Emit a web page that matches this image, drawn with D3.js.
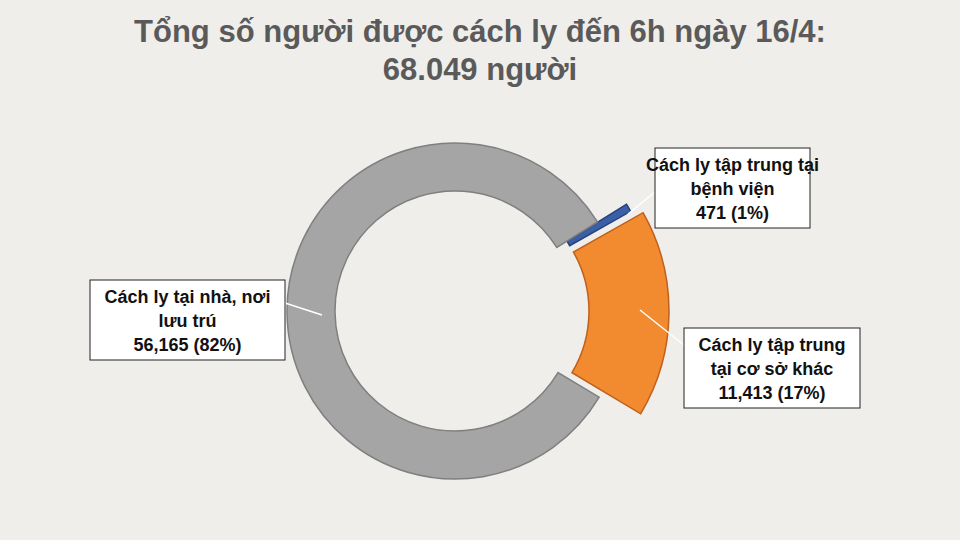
<!DOCTYPE html>
<html><head><meta charset="utf-8">
<script src="https://cdn.jsdelivr.net/npm/d3@7"></script>
<style>body{margin:0;background:#efeeea}</style></head>
<body><svg id="c" width="960" height="540"></svg>
<script>
const categories = ["Cách ly tập trung tại bệnh viện","Cách ly tập trung tại cơ sở khác","Cách ly tại nhà, nơi lưu trú"];
const values = [471, 11413, 56165];
const percents = ["1%","17%","82%"];
const valueLabels = ["471","11,413","56,165"];
const colors = ["#3a5fa8","#f28a30","#a5a5a5"];
const strokes = ["#24427a","#c0601a","#7f7f7f"];
const titleLines = ["Tổng số người được cách ly đến 6h ngày 16/4:","68.049 người"];

const svg = d3.select("#c");
svg.append("rect").attr("width",960).attr("height",540).attr("fill","#efeeea");
svg.selectAll("text.t").data(titleLines).join("text")
  .attr("x",480).attr("y",(d,i)=>42+i*38).attr("text-anchor","middle")
  .attr("font-family","Liberation Sans, Arial").attr("font-weight","bold")
  .attr("font-size",31).attr("fill","#5a5a5a").text(d=>d);

const cx=455, cy=311, R=168, r=120;
const pie = d3.pie().sort(null).startAngle(58*Math.PI/180).endAngle((58+360)*Math.PI/180);
const arcs = pie(values);
const outer=[190,200,R];
const explode=[12,14,0];
const g = svg.append("g").attr("transform",`translate(${cx},${cy})`);
g.selectAll("path").data(arcs).join("path")
  .attr("d",(d,i)=>d3.arc().innerRadius(r).outerRadius(outer[i])(d))
  .attr("transform",(d,i)=>{const m=(d.startAngle+d.endAngle)/2;return `translate(${Math.sin(m)*explode[i]},${-Math.cos(m)*explode[i]})`;})
  .attr("fill",(d,i)=>colors[i]).attr("stroke",(d,i)=>strokes[i]).attr("stroke-width",1.5);

const boxes = [
  {x:655,y:148,w:155,h:80,lines:["Cách ly tập trung tại","bệnh viện",valueLabels[0]+"  ("+percents[0]+")"], anchor:[628,214], pt:[655,192]},
  {x:684,y:328,w:176,h:80,lines:["Cách ly tập trung","tại cơ sở khác",valueLabels[1]+"  ("+percents[1]+")"], anchor:[640,310], pt:[684,345]},
  {x:90,y:280,w:195,h:80,lines:["Cách ly tại nhà, nơi","lưu trú",valueLabels[2]+"  ("+percents[2]+")"], anchor:[322,315], pt:[285,303]}
];
boxes.forEach(b=>{
  svg.append("line").attr("x1",b.pt[0]).attr("y1",b.pt[1]).attr("x2",b.anchor[0]).attr("y2",b.anchor[1]).attr("stroke","#fff").attr("stroke-width",1.5);
  svg.append("rect").attr("x",b.x).attr("y",b.y).attr("width",b.w).attr("height",b.h).attr("fill","#fff").attr("stroke","#222").attr("stroke-width",1);
  svg.selectAll(null).data(b.lines).join("text").attr("x",b.x+b.w/2).attr("y",(d,i)=>b.y+23+i*24)
    .attr("text-anchor","middle").attr("font-family","Liberation Sans, Arial").attr("font-weight","bold")
    .attr("font-size",18).attr("fill","#111").text(d=>d);
});
</script></body></html>
